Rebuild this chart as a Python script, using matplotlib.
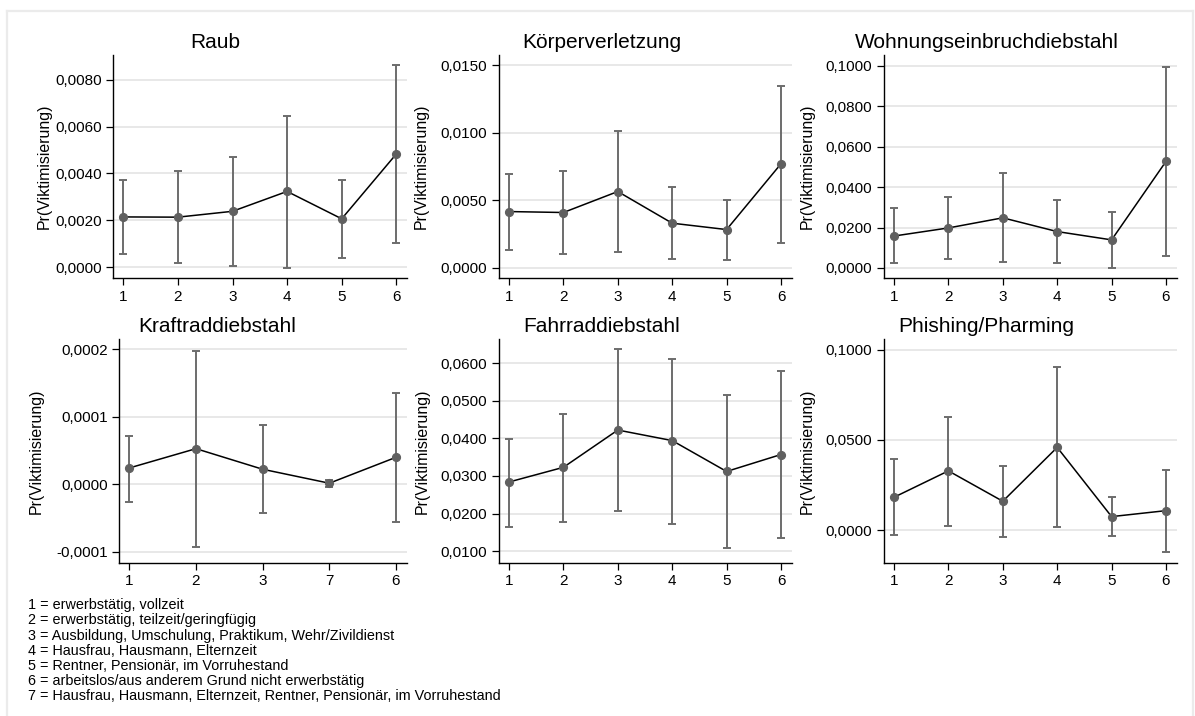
import matplotlib
matplotlib.use("Agg")
import matplotlib.pyplot as plt
from matplotlib.ticker import FuncFormatter, FixedLocator
from matplotlib.lines import Line2D

plt.rcParams['font.family'] = ['Liberation Sans', 'DejaVu Sans']

# ---------------- data ----------------
cats_std = ["1", "2", "3", "4", "5", "6"]
cats_kraftrad = ["1", "2", "3", "7", "6"]

titles = ["Raub", "Körperverletzung", "Wohnungseinbruchdiebstahl",
          "Kraftraddiebstahl", "Fahrraddiebstahl", "Phishing/Pharming"]

raub_mean = [0.00214, 0.00213, 0.00238, 0.00323, 0.00206, 0.00483]
raub_lo = [0.00054, 0.00018, 0.00006, -0.00003, 0.00040, 0.00102]
raub_hi = [0.00373, 0.00409, 0.00471, 0.00645, 0.00373, 0.00862]

koerper_mean = [0.00417, 0.00410, 0.00565, 0.00331, 0.00284, 0.00770]
koerper_lo = [0.00133, 0.00101, 0.00116, 0.00069, 0.00062, 0.00188]
koerper_hi = [0.00696, 0.00716, 0.01010, 0.00597, 0.00503, 0.01347]

wohnung_mean = [0.0158, 0.0198, 0.0248, 0.0180, 0.0139, 0.0527]
wohnung_lo = [0.0025, 0.0045, 0.0028, 0.0025, 0.0002, 0.0058]
wohnung_hi = [0.0296, 0.0353, 0.0469, 0.0337, 0.0277, 0.0994]

kraftrad_mean = [2.41e-5, 5.27e-5, 2.22e-5, 0.15e-5, 3.99e-5]
kraftrad_lo = [-2.57e-5, -9.35e-5, -4.29e-5, -0.35e-5, -5.56e-5]
kraftrad_hi = [7.14e-5, 19.78e-5, 8.73e-5, 0.60e-5, 13.55e-5]

fahrrad_mean = [0.0284, 0.0323, 0.0422, 0.0394, 0.0312, 0.0357]
fahrrad_lo = [0.0165, 0.0179, 0.0206, 0.0172, 0.0110, 0.0136]
fahrrad_hi = [0.0399, 0.0465, 0.0636, 0.0612, 0.0514, 0.0580]

phishing_mean = [0.0183, 0.0329, 0.0161, 0.0459, 0.0076, 0.0109]
phishing_lo = [-0.0024, 0.0026, -0.0037, 0.0020, -0.0033, -0.0119]
phishing_hi = [0.0394, 0.0626, 0.0357, 0.0902, 0.0183, 0.0335]

yticks_raub = [0.0, 0.002, 0.004, 0.006, 0.008]
yticks_koerper = [0.0, 0.005, 0.010, 0.015]
yticks_wohnung = [0.0, 0.02, 0.04, 0.06, 0.08, 0.10]
yticks_kraftrad = [-0.0001, 0.0, 0.0001, 0.0002]
yticks_fahrrad = [0.01, 0.02, 0.03, 0.04, 0.05, 0.06]
yticks_phishing = [0.0, 0.05, 0.10]

ylims = [(-0.00047, 0.00906), (-0.00074, 0.01574), (-0.00495, 0.1053),
         (-1.163e-4, 2.148e-4), (0.00697, 0.0663), (-0.0179, 0.1057)]

ylabel = "Pr(Viktimisierung)"

notes = [
    "1 = erwerbstätig, vollzeit",
    "2 = erwerbstätig, teilzeit/geringfügig",
    "3 = Ausbildung, Umschulung, Praktikum, Wehr/Zivildienst",
    "4 = Hausfrau, Hausmann, Elternzeit",
    "5 = Rentner, Pensionär, im Vorruhestand",
    "6 = arbeitslos/aus anderem Grund nicht erwerbstätig",
    "7 = Hausfrau, Hausmann, Elternzeit, Rentner, Pensionär, im Vorruhestand",
]

panels = [
    (cats_std, raub_mean, raub_lo, raub_hi, yticks_raub),
    (cats_std, koerper_mean, koerper_lo, koerper_hi, yticks_koerper),
    (cats_std, wohnung_mean, wohnung_lo, wohnung_hi, yticks_wohnung),
    (cats_kraftrad, kraftrad_mean, kraftrad_lo, kraftrad_hi, yticks_kraftrad),
    (cats_std, fahrrad_mean, fahrrad_lo, fahrrad_hi, yticks_fahrrad),
    (cats_std, phishing_mean, phishing_lo, phishing_hi, yticks_phishing),
]

# ---------------- layout (pixels) ----------------
W, H = 1195, 716
fig = plt.figure(figsize=(W / 100, H / 100), dpi=100)
fig.patch.set_facecolor("white")

def fx(px):
    return px / W

def fy(py):
    return 1 - py / H

# axes rect in pixels: left, top, right, bottom
rects = [
    (113, 55, 407, 278),
    (498.7, 55, 791.7, 278),
    (883.7, 55, 1176.7, 278),
    (119, 339.3, 406.7, 562.7),
    (498.7, 339.3, 791.7, 562.7),
    (883.7, 339.3, 1176.7, 562.7),
]
title_x = [215, 601.7, 986.7, 216.7, 601.7, 986.7]
title_base = [48, 48, 48, 331.7, 331.7, 331.7]
ylabel_x = [44, 421, 807.5, 36, 422.5, 807.5]

mark_gray = "#606060"
err_gray = "#6c6c6c"
gridc = "#e8e8e8"

for i, (cats, mean, lo, hi, yt) in enumerate(panels):
    l, t, r, b = rects[i]
    ax = fig.add_axes([fx(l), fy(b), fx(r) - fx(l), (b - t) / H])
    n = len(cats)
    xs = list(range(n))
    unit = (r - l - 21) / (n - 1)
    ax.set_xlim(-10.3 / unit, (n - 1) + 10.7 / unit)
    ax.set_ylim(*ylims[i])
    err_lo = [m - v for m, v in zip(mean, lo)]
    err_hi = [v - m for m, v in zip(mean, hi)]
    ax.errorbar(xs, mean, yerr=[err_lo, err_hi], fmt='none', ecolor=err_gray,
                elinewidth=1.4, capsize=3.1, capthick=1.4, zorder=2)
    ax.plot(xs, mean, color="black", lw=1.1, zorder=3)
    ax.plot(xs, mean, 'o', color=mark_gray, markersize=5.6, mec=mark_gray,
            zorder=4)
    ax.yaxis.set_major_locator(FixedLocator(yt))
    ax.yaxis.set_major_formatter(
        FuncFormatter(lambda v, p: f"{v:.4f}".replace('.', ',')))
    ax.set_xticks(xs)
    ax.set_xticklabels(cats)
    ax.grid(axis='y', color=gridc, lw=1.4, zorder=0)
    ax.set_axisbelow(True)
    for s in ("top", "right"):
        ax.spines[s].set_visible(False)
    for s in ("left", "bottom"):
        ax.spines[s].set_linewidth(1.0)
        ax.spines[s].set_color("black")
    ax.tick_params(axis='both', direction='out', length=4.8, width=0.9,
                   labelsize=11, colors="black")
    ax.tick_params(axis='x', pad=3.6)
    ax.tick_params(axis='y', pad=3.3)
    ax.set_facecolor("white")
    fig.text(fx(title_x[i]), fy(title_base[i]), titles[i], ha='center',
             va='baseline', fontsize=15)
    fig.text(fx(ylabel_x[i]), fy((t + b) / 2), ylabel, rotation=90,
             ha='center', va='center', fontsize=11.4)

# notes
for k, line in enumerate(notes):
    fig.text(fx(27.7), fy(609.3 + k * 15.15), line, ha='left', va='baseline',
             fontsize=10.4)

# outer light frame
fc = "#ebebeb"
fig.add_artist(Line2D([fx(7), fx(1193)], [fy(11), fy(11)], color=fc, lw=1.6))
fig.add_artist(Line2D([fx(7), fx(7)], [fy(11), fy(716)], color=fc, lw=1.6))
fig.add_artist(Line2D([fx(1193), fx(1193)], [fy(11), fy(716)], color=fc, lw=1.6))

fig.savefig("out.png", dpi=100, facecolor="white")
